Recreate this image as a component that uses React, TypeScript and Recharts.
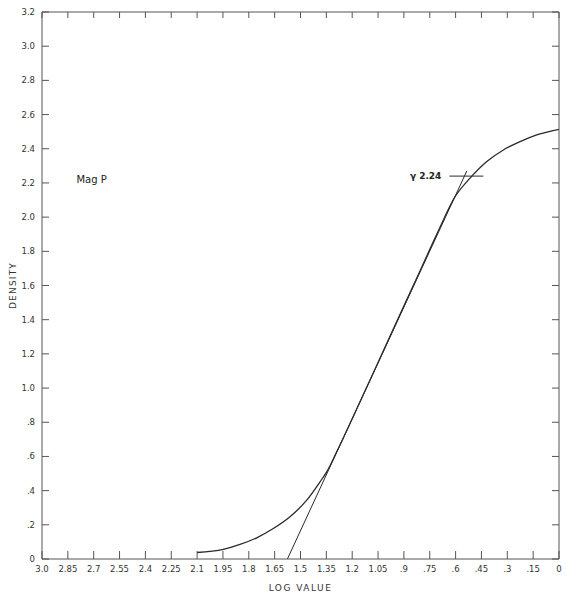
import React from 'react';
import {
  ComposedChart,
  Line,
  XAxis,
  YAxis,
  ReferenceLine,
  ReferenceDot,
} from 'recharts';

// Characteristic curve (log value vs density)
const curveLogValue = [2.1, 1.948, 1.851, 1.754, 1.658, 1.561, 1.464, 1.387, 1.348, 1.29, 1.2, 1.0, 0.8, 0.7, 0.603, 0.516, 0.419, 0.323, 0.226, 0.129, 0.0];
const curveDensity = [0.038, 0.056, 0.085, 0.124, 0.178, 0.247, 0.344, 0.451, 0.51, 0.627, 0.82, 1.26, 1.70, 1.92, 2.12, 2.228, 2.325, 2.393, 2.442, 2.481, 2.514];

// Straight-line (gamma) portion
const gammaLogValue = [1.576, 0.535];
const gammaDensity = [0, 2.27];

// gamma marker
const gammaLabel = 'γ 2.24';
const gammaLevel = 2.24;
const gammaMarkStart = 0.636;
const gammaMarkEnd = 0.439;

const magLabel = 'Mag P';
const magPos = { x: 2.8, y: 2.22 };

const xTicks = [3.0, 2.85, 2.7, 2.55, 2.4, 2.25, 2.1, 1.95, 1.8, 1.65, 1.5, 1.35, 1.2, 1.05, 0.9, 0.75, 0.6, 0.45, 0.3, 0.15, 0];
const xTickLabels = ['3.0', '2.85', '2.7', '2.55', '2.4', '2.25', '2.1', '1.95', '1.8', '1.65', '1.5', '1.35', '1.2', '1.05', '.9', '.75', '.6', '.45', '.3', '.15', '0'];
const yTicks = [0, 0.2, 0.4, 0.6, 0.8, 1.0, 1.2, 1.4, 1.6, 1.8, 2.0, 2.2, 2.4, 2.6, 2.8, 3.0, 3.2];
const yTickLabels = ['0', '.2', '.4', '.6', '.8', '1.0', '1.2', '1.4', '1.6', '1.8', '2.0', '2.2', '2.4', '2.6', '2.8', '3.0', '3.2'];

const curveData = curveLogValue.map((x, i) => ({ x, y: curveDensity[i] }));
const gammaData = gammaLogValue.map((x, i) => ({ x, y: gammaDensity[i] }));

const ink = '#2a2a2a';
const axisInk = '#555';
const font = 'DejaVu Sans, sans-serif';

const fmtX = (v: number) => {
  const i = xTicks.findIndex((t) => Math.abs(t - v) < 1e-6);
  return i >= 0 ? xTickLabels[i] : String(v);
};
const fmtY = (v: number) => {
  const i = yTicks.findIndex((t) => Math.abs(t - v) < 1e-6);
  return i >= 0 ? yTickLabels[i] : String(v);
};

const NoTick = () => <g />;

export default function App() {
  return (
    <div style={{ position: 'absolute', left: 0, top: 0, background: '#fff' }}>
      <ComposedChart
        width={567}
        height={600}
        margin={{ top: 11, right: 7, bottom: 11, left: 12 }}
        style={{ fontFamily: font }}
      >
        <XAxis
          type="number"
          dataKey="x"
          domain={[0, 3]}
          reversed
          ticks={xTicks}
          tickFormatter={fmtX}
          interval={0}
          allowDataOverflow
          height={30}
          tickSize={-8}
          tickMargin={15}
          stroke={axisInk}
          tick={{ fill: '#333', fontSize: 8.5, fontFamily: font }}
          label={{ value: 'LOG  VALUE', position: 'insideBottom', offset: -2, fill: '#333', fontSize: 9, fontFamily: font, letterSpacing: 1.5 }}
        />
        <XAxis
          xAxisId="top"
          orientation="top"
          type="number"
          dataKey="x"
          domain={[0, 3]}
          reversed
          ticks={xTicks}
          interval={0}
          allowDataOverflow
          height={1}
          tickSize={-6}
          tick={NoTick}
          stroke={axisInk}
        />
        <YAxis
          type="number"
          domain={[0, 3.2]}
          ticks={yTicks}
          tickFormatter={fmtY}
          interval={0}
          allowDataOverflow
          width={30}
          tickSize={-7}
          tickMargin={14}
          stroke={axisInk}
          tick={{ fill: '#333', fontSize: 8.5, fontFamily: font }}
          label={{ value: 'DENSITY', angle: -90, position: 'insideLeft', offset: 1, fill: '#333', fontSize: 9, fontFamily: font, letterSpacing: 1.2, style: { textAnchor: 'middle' } }}
        />
        <YAxis
          yAxisId="right"
          orientation="right"
          type="number"
          domain={[0, 3.2]}
          ticks={yTicks}
          interval={0}
          allowDataOverflow
          width={1}
          tickSize={-7}
          tick={NoTick}
          stroke={axisInk}
        />
        <Line
          data={gammaData}
          dataKey="y"
          xAxisId="top"
          yAxisId="right"
          type="linear"
          stroke="none"
          dot={false}
          activeDot={false}
          isAnimationActive={false}
        />
        <Line
          data={curveData}
          dataKey="y"
          type="monotone"
          stroke={ink}
          strokeWidth={1.3}
          dot={false}
          isAnimationActive={false}
        />
        <Line
          data={gammaData}
          dataKey="y"
          type="linear"
          stroke={ink}
          strokeWidth={1}
          dot={false}
          isAnimationActive={false}
        />
        <ReferenceLine
          segment={[
            { x: gammaMarkStart, y: gammaLevel },
            { x: gammaMarkEnd, y: gammaLevel },
          ]}
          stroke={ink}
          strokeWidth={1}
        />
        <ReferenceDot
          x={gammaMarkStart}
          y={gammaLevel}
          r={0}
          fill="none"
          stroke="none"
          label={{ value: gammaLabel, position: 'left', offset: 8, fill: '#222', fontSize: 9, fontWeight: 'bold', fontFamily: font }}
        />
        <ReferenceDot
          x={magPos.x}
          y={magPos.y}
          r={0}
          fill="none"
          stroke="none"
          label={{ value: magLabel, position: 'right', offset: 0, fill: '#222', fontSize: 10, fontFamily: font }}
        />
      </ComposedChart>
    </div>
  );
}
